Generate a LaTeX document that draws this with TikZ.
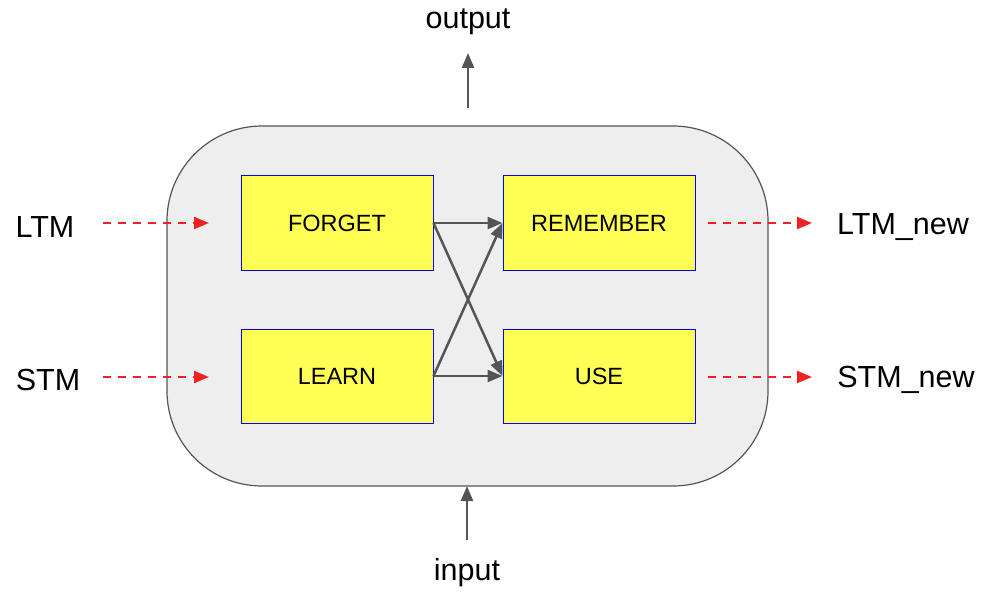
\documentclass[tikz,border=0pt]{standalone}
\usepackage{fontspec}
\setmainfont{Liberation Sans}
\usetikzlibrary{arrows.meta}
\definecolor{panelfill}{HTML}{EEEEEE}
\definecolor{panelline}{HTML}{555555}
\definecolor{boxfill}{HTML}{FFFF55}
\definecolor{boxline}{HTML}{0000FF}
\definecolor{arrowdark}{HTML}{555555}
\definecolor{arrowred}{HTML}{EE2222}
\tikzset{
  panel/.style={draw=panelline, fill=panelfill, line width=1.2pt, rounded corners=95pt},
  gatebox/.style={draw=boxline, fill=boxfill, line width=1pt, minimum width=192pt, minimum height=94pt, inner sep=0pt, font=\fontsize{23.5}{27}\selectfont},
  label/.style={font=\fontsize{30.5}{34}\selectfont, inner sep=0pt},
  darrow/.style={draw=arrowdark, line width=2.5pt, -{Triangle[length=15pt,width=12pt]}},
  redarrow/.style={draw=arrowred, line width=2pt, dash pattern=on 8pt off 7pt, -{Triangle[length=15pt,width=12pt]}}
}
\begin{document}
\begin{tikzpicture}[x=1pt,y=-1pt]
\useasboundingbox (0,0) rectangle (1000,604);
\draw[panel] (167,126) rectangle (768,486);
\node[gatebox] (forget) at (337,223) {FORGET};
\node[gatebox] (remember) at (599,223) {REMEMBER};
\node[gatebox] (learn) at (337,376) {LEARN};
\node[gatebox] (use) at (599,376) {USE};
\node[label] (ltm) at (45,227) {LTM};
\node[label] (stm) at (48,380) {STM};
\node[label] (ltmnew) at (903,227) {LTM\_new};
\node[label] (stmnew) at (906,380) {STM\_new};
\node[label] (output) at (468,22) {output};
\node[label] (input) at (467,573) {input};
\coordinate (ltmS) at (103,223);
\coordinate (ltmE) at (209,223);
\coordinate (stmS) at (103,377);
\coordinate (stmE) at (209,377);
\coordinate (ltmnS) at (708,223);
\coordinate (ltmnE) at (812,223);
\coordinate (stmnS) at (708,377);
\coordinate (stmnE) at (812,377);
\coordinate (outS) at (468,108);
\coordinate (outE) at (468,53);
\coordinate (inS) at (467,540);
\coordinate (inE) at (467,486);
\draw[redarrow] (ltmS) -- (ltmE);
\draw[redarrow] (stmS) -- (stmE);
\draw[redarrow] (ltmnS) -- (ltmnE);
\draw[redarrow] (stmnS) -- (stmnE);
\draw[darrow] (outS) -- (outE);
\draw[darrow] (inS) -- (inE);
\draw[darrow] (forget.east) -- (remember.west);
\draw[darrow] (learn.east) -- (use.west);
\draw[darrow] (forget.east) -- (use.west);
\draw[darrow] (learn.east) -- (remember.west);
\end{tikzpicture}
\end{document}
